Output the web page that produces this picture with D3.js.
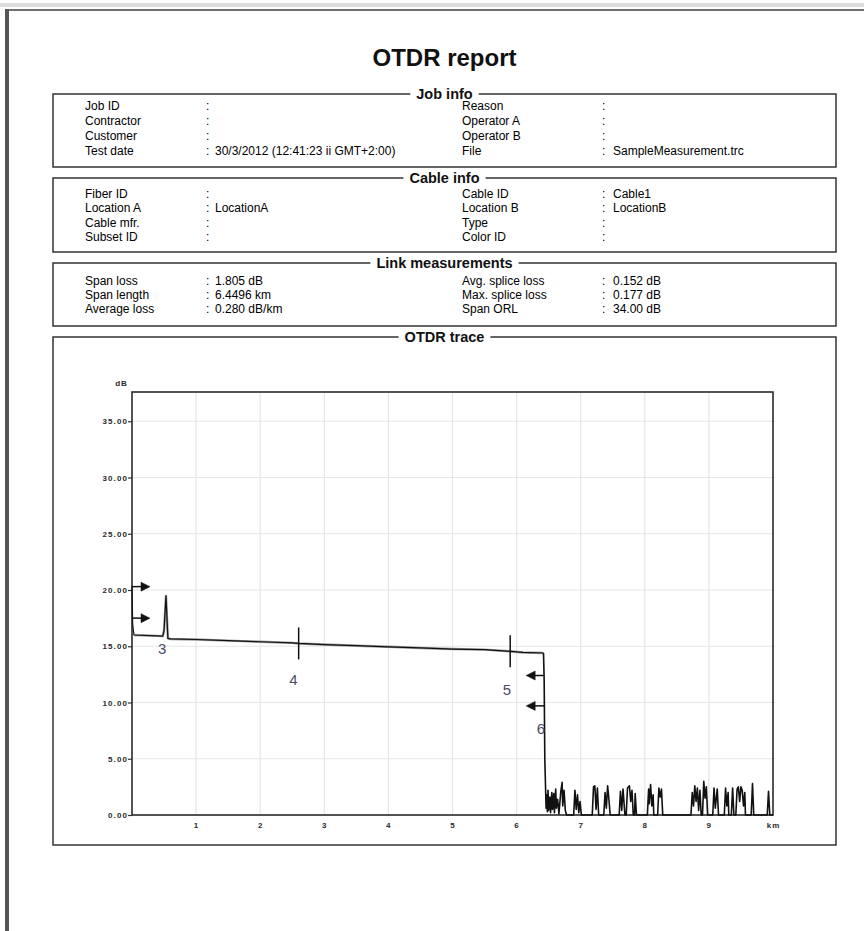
<!DOCTYPE html>
<html>
<head>
<meta charset="utf-8">
<script src="https://cdn.jsdelivr.net/npm/d3@7"></script>
<style>
  body { margin: 0; background: #fff; }
  text { font-family: "Liberation Sans", Arial, sans-serif; }
</style>
</head>
<body>
<div id="report"></div>
<script>
// report fields
const jobLeft = [["Job ID", ""], ["Contractor", ""], ["Customer", ""], ["Test date", "30/3/2012 (12:41:23 ii GMT+2:00)"]];
const jobRight = [["Reason", ""], ["Operator A", ""], ["Operator B", ""], ["File", "SampleMeasurement.trc"]];
const cableLeft = [["Fiber ID", ""], ["Location A", "LocationA"], ["Cable mfr.", ""], ["Subset ID", ""]];
const cableRight = [["Cable ID", "Cable1"], ["Location B", "LocationB"], ["Type", ""], ["Color ID", ""]];
const linkLeft = [["Span loss", "1.805 dB"], ["Span length", "6.4496 km"], ["Average loss", "0.280 dB/km"]];
const linkRight = [["Avg. splice loss", "0.152 dB"], ["Max. splice loss", "0.177 dB"], ["Span ORL", "34.00 dB"]];

// axis ticks
const kmTicks = [1, 2, 3, 4, 5, 6, 7, 8, 9, 10];
const kmTickLabels = ["1", "2", "3", "4", "5", "6", "7", "8", "9", "km"];
const dbTicks = [0, 5, 10, 15, 20, 25, 30, 35];

// trace: fiber section (km, dB)
const fiberKm = [0, 0.01, 0.03, 0.48, 0.50, 0.53, 0.56, 0.60, 1.0, 1.5, 2.0, 2.5, 2.6, 3.0, 3.5, 4.0, 4.5, 5.0, 5.5, 5.9, 6.1, 6.42];
const fiberDb = [20.3, 17.0, 16.0, 15.9, 16.4, 19.5, 15.7, 15.65, 15.6, 15.5, 15.4, 15.3, 15.25, 15.15, 15.05, 14.95, 14.85, 14.75, 14.7, 14.55, 14.45, 14.4];
// trace: fiber end and noise floor
const noiseKm = [6.42, 6.43, 6.44, 6.46, 6.47, 6.48, 6.49, 6.50, 6.52, 6.53, 6.55, 6.56, 6.58, 6.59, 6.61, 6.62, 6.64, 6.66, 6.69, 6.71, 6.72, 6.74, 6.76, 6.78,
  6.89, 6.91, 6.93, 6.95, 6.97, 6.99, 7.01,
  7.18, 7.20, 7.22, 7.24, 7.26, 7.28,
  7.36, 7.38, 7.40, 7.42, 7.44, 7.46,
  7.60, 7.62, 7.64, 7.66, 7.69, 7.71, 7.73, 7.76, 7.78, 7.80, 7.82, 7.84, 7.85, 7.87,
  8.04, 8.06, 8.07, 8.09, 8.11, 8.13, 8.14, 8.20, 8.22, 8.24, 8.26, 8.28,
  8.72, 8.74, 8.76, 8.78, 8.80, 8.82, 8.84, 8.86, 8.88, 8.90, 8.92, 8.94, 8.96, 8.98,
  9.06, 9.08, 9.10, 9.13, 9.15, 9.24, 9.26, 9.28, 9.30, 9.31, 9.35, 9.37, 9.39,
  9.42, 9.44, 9.46, 9.48, 9.50, 9.52, 9.54, 9.56, 9.57, 9.66, 9.68, 9.70, 9.91, 9.93, 9.95, 10];
const noiseDb = [14.4, 12.0, 5.0, 0.6, 1.8, 0.3, 2.2, 0.4, 1.6, 0.2, 2.0, 0.5, 1.9, 0.2, 2.3, 0.6, 1.4, 0.1, 2.1, 2.9, 0.8, 2.2, 0.4, 0,
  0, 2.2, 0.5, 1.8, 0.2, 1.2, 0,
  0, 2.5, 2.6, 0.5, 2.4, 0,
  0, 2.0, 0.6, 2.6, 1.4, 0,
  0, 2.1, 0.4, 2.3, 0, 0, 2.4, 2.6, 1.2, 2.2, 0, 0, 1.9, 0,
  0, 2.3, 1.0, 2.7, 0.8, 1.8, 0, 0, 2.4, 1.6, 2.3, 0,
  0, 2.0, 0.8, 2.6, 1.2, 2.4, 0.4, 2.2, 0, 0, 3.0, 1.5, 2.5, 0,
  0, 2.4, 0.6, 2.3, 0, 0, 2.4, 0.8, 2.0, 0, 0, 2.4, 0,
  0, 2.3, 2.5, 1.2, 2.5, 2.2, 0.8, 2.0, 0, 0, 2.8, 0, 0, 2.1, 0, 0];

// event markers
const launchArrowDb = [20.3, 17.5];
const endArrowKm = 6.43;
const endArrowDb = [12.4, 9.7];
const eventTickKm = [2.6, 5.9];
const eventTickDb = [15.25, 14.55];
const eventLabels = ["3", "4", "5", "6"];
const eventLabelKm = [0.47, 2.52, 5.85, 6.38];
const eventLabelDb = [14.75, 12.05, 11.15, 7.65];

const W = 864, H = 931;
const boxL = 53, boxR = 836, midX = (boxL + boxR) / 2;

const svg = d3.select('#report')
  .append('svg')
    .attr('width', W)
    .attr('height', H);

svg.append('rect').attr('width', W).attr('height', H).attr('fill', '#fff');

// viewer page edge
svg.append('rect').attr('x', 0).attr('y', 3).attr('width', W).attr('height', 4).attr('fill', '#dcdcdc');
svg.append('rect').attr('x', 5).attr('y', 9).attr('width', W - 5).attr('height', 2).attr('fill', '#707070');
svg.append('rect').attr('x', 5).attr('y', 9).attr('width', 4).attr('height', H - 9).attr('fill', '#555');

svg.append('text')
    .attr('x', midX)
    .attr('y', 66)
    .attr('text-anchor', 'middle')
    .attr('font-size', 24)
    .attr('font-weight', 'bold')
    .attr('fill', '#111')
    .text('OTDR report');

// framed section with title sitting on the top border
function frame(title, y0, y1) {
  svg.append('rect')
      .attr('x', boxL).attr('y', y0)
      .attr('width', boxR - boxL).attr('height', y1 - y0)
      .attr('fill', 'none')
      .attr('stroke', '#333')
      .attr('stroke-width', 1.5);
  const bg = svg.append('rect').attr('fill', '#fff');
  const t = svg.append('text')
      .attr('x', midX)
      .attr('y', y0 + 5)
      .attr('text-anchor', 'middle')
      .attr('font-size', 14.5)
      .attr('font-weight', 'bold')
      .attr('fill', '#111')
      .text(title);
  const w = t.node().getComputedTextLength();
  bg.attr('x', midX - w / 2 - 6).attr('y', y0 - 4).attr('width', w + 12).attr('height', 8);
}

function rows(list, xLabel, xColon, xValue, baselines) {
  const g = svg.append('g').attr('font-size', 12).attr('fill', '#000');
  list.forEach((r, i) => {
    g.append('text').attr('x', xLabel).attr('y', baselines[i]).text(r[0]);
    g.append('text').attr('x', xColon).attr('y', baselines[i]).text(':');
    g.append('text').attr('x', xValue).attr('y', baselines[i]).text(r[1]);
  });
}

frame('Job info', 94, 167);
rows(jobLeft, 85, 206, 215, [109.5, 124.5, 139.5, 154.5]);
rows(jobRight, 462, 602, 613, [109.5, 124.5, 139.5, 154.5]);

frame('Cable info', 178, 252);
rows(cableLeft, 85, 206, 215, [197.5, 212, 226.5, 241]);
rows(cableRight, 462, 602, 613, [197.5, 212, 226.5, 241]);

frame('Link measurements', 263, 326);
rows(linkLeft, 85, 206, 215, [284.5, 298.5, 312.5]);
rows(linkRight, 462, 602, 613, [284.5, 298.5, 312.5]);

frame('OTDR trace', 337, 845);

// chart
const plot = { left: 132, right: 773, top: 392, bottom: 815 };
const x = d3.scaleLinear().domain([0, 10]).range([plot.left, plot.right]);
const y = d3.scaleLinear().domain([0, 37.6]).range([plot.bottom, plot.top]);

const grid = svg.append('g').attr('stroke', '#e6e6e6').attr('stroke-width', 1.2);
grid.selectAll('line.v')
  .data(kmTicks.filter(d => d < 10))
  .join('line')
    .attr('x1', d => x(d)).attr('x2', d => x(d))
    .attr('y1', plot.top).attr('y2', plot.bottom);
grid.selectAll('line.h')
  .data(dbTicks.filter(d => d > 0))
  .join('line')
    .attr('x1', plot.left).attr('x2', plot.right + 2)
    .attr('y1', d => y(d)).attr('y2', d => y(d));

const yAxis = svg.append('g')
    .attr('transform', `translate(${plot.left},0)`)
    .call(d3.axisLeft(y).tickValues(dbTicks).tickFormat(d3.format('.2f')).tickSize(4).tickPadding(0));
const xAxis = svg.append('g')
    .attr('transform', `translate(0,${plot.bottom})`)
    .call(d3.axisBottom(x).tickValues(kmTicks).tickFormat((d, i) => kmTickLabels[i]).tickSize(0).tickPadding(7));
[yAxis, xAxis].forEach(a => {
  a.select('.domain').remove();
  a.selectAll('line').attr('stroke', '#333').attr('stroke-width', 1.2);
  a.selectAll('text')
    .attr('font-family', '"Liberation Sans", Arial, sans-serif')
    .attr('font-size', 8)
    .attr('letter-spacing', 1.1)
    .attr('font-weight', 'bold')
    .attr('fill', '#2a2a2a');
});

svg.append('text')
    .attr('x', plot.left - 4)
    .attr('y', 386)
    .attr('text-anchor', 'end')
    .attr('font-size', 8)
    .attr('letter-spacing', 1.1)
    .attr('font-weight', 'bold')
    .attr('fill', '#2a2a2a')
    .text('dB');

svg.append('rect')
    .attr('x', plot.left).attr('y', plot.top)
    .attr('width', plot.right - plot.left).attr('height', plot.bottom - plot.top)
    .attr('fill', 'none')
    .attr('stroke', '#2a2a2a')
    .attr('stroke-width', 1.6);

// trace
const line = d3.line().x(d => x(d[0])).y(d => y(d[1]));
const fiber = fiberKm.map((k, i) => [k, fiberDb[i]]);
const noise = noiseKm.map((k, i) => [k, noiseDb[i]]);

svg.append('path')
    .datum(fiber.slice(2))
    .attr('d', line)
    .attr('fill', 'none')
    .attr('stroke', '#9c9c9c')
    .attr('stroke-width', 2.4);
svg.append('path')
    .datum(fiber)
    .attr('d', line)
    .attr('fill', 'none')
    .attr('stroke', '#111')
    .attr('stroke-width', 1.2)
    .attr('stroke-linejoin', 'round');
svg.append('path')
    .datum(noise)
    .attr('d', line)
    .attr('fill', 'none')
    .attr('stroke', '#111')
    .attr('stroke-width', 1.6)
    .attr('stroke-linejoin', 'round');

// event arrows
function arrow(x0, y0, dir) {
  const g = svg.append('g').attr('fill', '#111').attr('stroke', '#111');
  g.append('line')
      .attr('x1', x0).attr('x2', x0 + dir * 10)
      .attr('y1', y0).attr('y2', y0)
      .attr('stroke-width', 1.5);
  g.append('path')
      .attr('d', `M${x0 + dir * 9},${y0 - 4.5}L${x0 + dir * 18},${y0}L${x0 + dir * 9},${y0 + 4.5}Z`)
      .attr('stroke-width', 0.5);
}
launchArrowDb.forEach(d => arrow(x(0), y(d), 1));
endArrowDb.forEach(d => arrow(x(endArrowKm), y(d), -1));

svg.selectAll('line.event')
  .data(eventTickKm)
  .join('line')
    .attr('x1', d => x(d)).attr('x2', d => x(d))
    .attr('y1', (d, i) => y(eventTickDb[i]) - 16)
    .attr('y2', (d, i) => y(eventTickDb[i]) + 16)
    .attr('stroke', '#111')
    .attr('stroke-width', 1.5);

svg.selectAll('text.event')
  .data(eventLabels)
  .join('text')
    .attr('x', (d, i) => x(eventLabelKm[i]))
    .attr('y', (d, i) => y(eventLabelDb[i]))
    .attr('dy', '0.35em')
    .attr('text-anchor', 'middle')
    .attr('font-family', '"Liberation Serif", "Times New Roman", serif')
    .attr('font-size', 15)
    .attr('fill', '#4a4a66')
    .text(d => d);
</script>
</body>
</html>
